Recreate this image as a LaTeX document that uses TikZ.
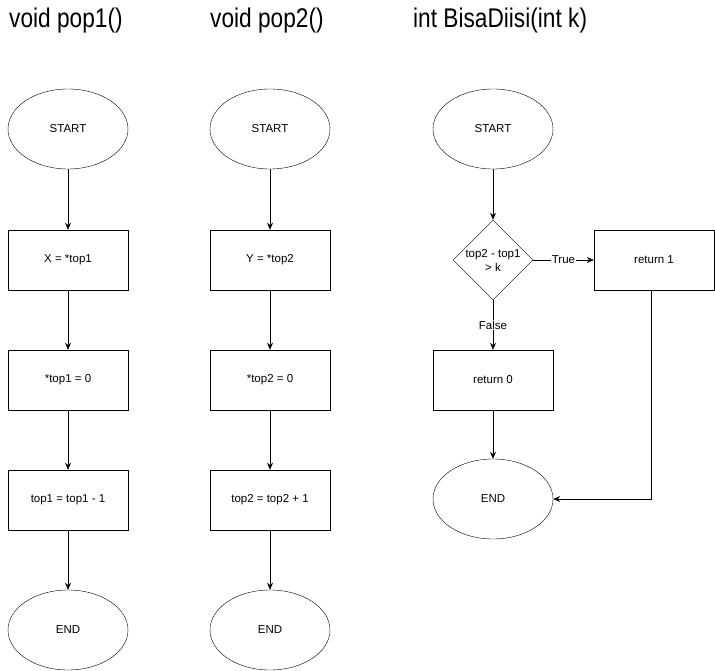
\documentclass[tikz,border=0pt]{standalone}
\usepackage{graphicx}
\usepackage{fontspec}
\setmainfont{Liberation Sans}
\usetikzlibrary{shapes.geometric,arrows.meta}
\newcommand{\ttl}[1]{\scalebox{0.84}[1]{#1}}
\begin{document}
\begin{tikzpicture}[x=1pt,y=-1pt,
  term/.style={draw,ellipse,minimum width=120pt,minimum height=80pt,inner sep=0pt,font=\fontsize{11.5}{13.5}\selectfont},
  procbox/.style={draw,rectangle,minimum width=120pt,minimum height=60pt,inner sep=0pt,font=\fontsize{11.5}{13.5}\selectfont},
  decis/.style={draw,diamond,minimum width=80pt,minimum height=80pt,inner sep=0pt,aspect=1,font=\fontsize{11.5}{14}\selectfont,align=center},
  title/.style={anchor=base west,inner sep=0pt,font=\fontsize{27}{30}\selectfont},
  lbl/.style={fill=white,inner sep=1pt,font=\fontsize{11.5}{13.5}\selectfont},
  arr/.style={draw,-{Stealth[length=7pt,width=6pt]},line width=0.75pt}]
\useasboundingbox (0,0) rectangle (715,671);
\fill[white] (0,0) rectangle (715,671);
% titles
\node[title] (t1) at (9,28) {\ttl{void pop1()}};
\node[title] (t2) at (210,28) {\ttl{void pop2()}};
\node[title] (t3) at (413,28) {\ttl{int BisaDiisi(int k)}};
% column 1
\node[term] (s1) at (68,129) {START};
\node[procbox] (a1) at (68,260) {X = *top1};
\node[procbox] (b1) at (68,380) {*top1 = 0};
\node[procbox] (c1) at (68,500) {top1 = top1 - 1};
\node[term] (e1) at (68,630) {END};
\path[arr] (s1) -- (a1);
\path[arr] (a1) -- (b1);
\path[arr] (b1) -- (c1);
\path[arr] (c1) -- (e1);
% column 2
\node[term] (s2) at (270,129) {START};
\node[procbox] (a2) at (270,260) {Y = *top2};
\node[procbox] (b2) at (270,380) {*top2 = 0};
\node[procbox] (c2) at (270,500) {top2 = top2 + 1};
\node[term] (e2) at (270,630) {END};
\path[arr] (s2) -- (a2);
\path[arr] (a2) -- (b2);
\path[arr] (b2) -- (c2);
\path[arr] (c2) -- (e2);
% column 3
\node[term] (s3) at (493,129) {START};
\node[decis] (d3) at (493,260) {top2 - top1\\ \textgreater{} k};
\node[procbox] (r1) at (654,260) {return 1};
\node[procbox] (r0) at (493,380) {return 0};
\node[term] (e3) at (493,499) {END};
\path[arr] (s3) -- (d3);
\path[arr] (d3) -- node[lbl] {True} (r1);
\path[arr] (d3) -- node[lbl] {False} (r0);
\path[arr] (r0) -- (e3);
\coordinate (k3) at (651,499);
\path[arr] (r1.south -| k3) -- (k3) -- (e3);
\end{tikzpicture}
\end{document}
